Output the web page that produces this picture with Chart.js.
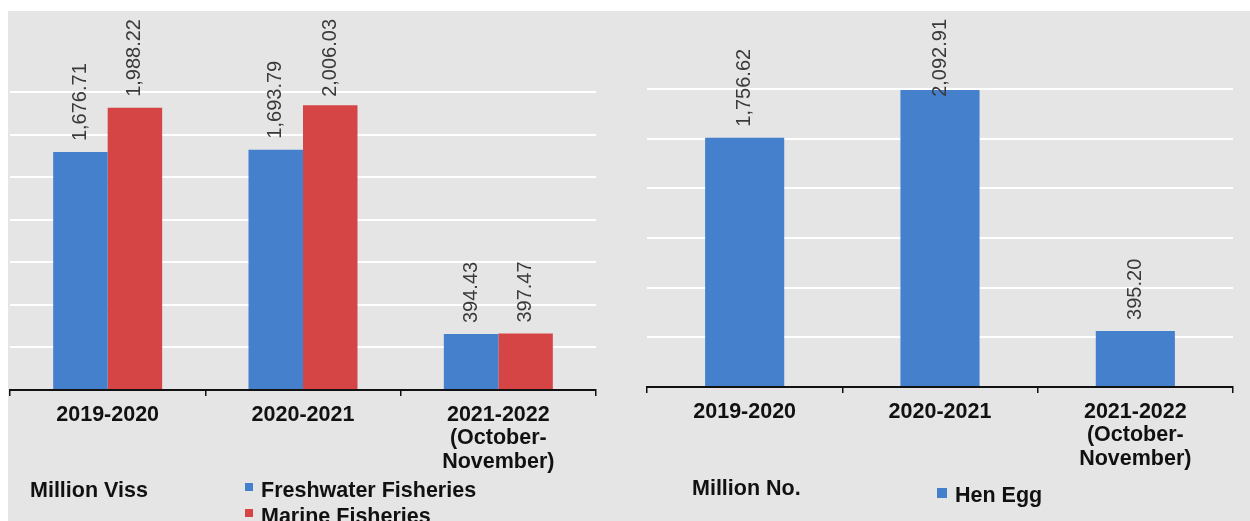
<!DOCTYPE html>
<html>
<head>
<meta charset="utf-8">
<script src="https://cdn.jsdelivr.net/npm/chart.js@4/dist/chart.umd.min.js"></script>
<style>
  html, body { margin: 0; padding: 0; background: #ffffff; }
  #page { position: relative; width: 1250px; height: 521px; overflow: hidden; }
  #panel { position: absolute; left: 8px; top: 11px; right: 0; bottom: 0; background: #e5e5e5; }
  #fishCanvas { position: absolute; left: 0; top: 0; }
  #eggCanvas { position: absolute; left: 622px; top: 0; }
</style>
</head>
<body>
<div id="page">
  <div id="panel"></div>
  <canvas id="fishCanvas" width="622" height="521"></canvas>
  <canvas id="eggCanvas" width="628" height="521"></canvas>
</div>
<script>
// =============================================================================
// DATA
// =============================================================================

const years = [
  '2019-2020',
  '2020-2021',
  ['2021-2022', '(October-', 'November)']
];

const freshwaterFisheries = [1676.71, 1693.79, 394.43];
const marineFisheries = [1988.22, 2006.03, 397.47];
const henEgg = [1756.62, 2092.91, 395.20];

const fishUnit = 'Million Viss';
const eggUnit = 'Million No.';

// =============================================================================
// CHART UTILITIES
// =============================================================================

const BLUE = '#4580cc';
const RED = '#d64546';
const FONT = "'Liberation Sans', Arial, Helvetica, sans-serif";

Chart.defaults.font.family = FONT;
Chart.defaults.color = '#111';

const formatValue = (v) =>
  v.toLocaleString('en-US', { minimumFractionDigits: 2, maximumFractionDigits: 2 });

/**
 * Vertical value labels above each bar, kept inside the panel top
 */
const barLabels = {
  id: 'barLabels',
  afterDatasetsDraw(chart) {
    const ctx = chart.ctx;
    ctx.save();
    ctx.font = '20px ' + FONT;
    ctx.fillStyle = '#3a3a3a';
    ctx.textAlign = 'left';
    ctx.textBaseline = 'middle';
    chart.data.datasets.forEach((ds, i) => {
      chart.getDatasetMeta(i).data.forEach((bar, j) => {
        const text = formatValue(ds.data[j]);
        const w = ctx.measureText(text).width;
        let start = bar.y - 11;
        if (start - w < 19) start = 19 + w; // clamp like the original
        ctx.save();
        ctx.translate(bar.x, start);
        ctx.rotate(-Math.PI / 2);
        ctx.fillText(text, 0, 0);
        ctx.restore();
      });
    });
    ctx.restore();
  }
};

/**
 * Unit caption and a small square-marker legend under the axis
 */
const unitLegend = {
  id: 'unitLegend',
  afterDraw(chart, args, opts) {
    const ctx = chart.ctx;
    ctx.save();
    ctx.font = 'bold 21.5px ' + FONT;
    ctx.fillStyle = '#111';
    ctx.textAlign = 'left';
    ctx.textBaseline = 'alphabetic';
    ctx.fillText(opts.unit, opts.unitX, opts.unitY);
    chart.data.datasets.forEach((ds, i) => {
      const y = opts.legendY + i * 26;
      ctx.fillStyle = ds.backgroundColor;
      ctx.fillRect(opts.legendX, y - 14, opts.box, opts.box);
      ctx.fillStyle = '#111';
      ctx.fillText(ds.label, opts.legendX + opts.box + 8, y);
    });
    ctx.restore();
  }
};

const makeOptions = (stepSize, axisHeight, padding, catPct, legendOpts) => ({
  responsive: false,
  animation: false,
  layout: { padding: padding },
  plugins: {
    legend: { display: false },
    tooltip: { enabled: false },
    unitLegend: legendOpts
  },
  scales: {
    x: {
      afterFit: (scale) => { scale.height = axisHeight; },
      grid: {
        display: true,
        drawOnChartArea: false,
        drawTicks: true,
        tickLength: 6,
        color: '#111',
        lineWidth: 1.5
      },
      border: { display: true, color: '#111', width: 2 },
      ticks: {
        padding: 7,
        color: '#111',
        maxRotation: 0,
        font: { size: 21.5, weight: 'bold', lineHeight: 1.1 }
      }
    },
    y: {
      min: 0,
      max: 2100,
      afterFit: (scale) => { scale.width = 0; },
      ticks: { display: false, stepSize: stepSize },
      grid: { color: '#ffffff', lineWidth: 2, drawTicks: false },
      border: { display: false }
    }
  },
  datasets: {
    bar: { categoryPercentage: catPct, barPercentage: 1 }
  }
});

// =============================================================================
// CHARTS
// =============================================================================

new Chart(document.getElementById('fishCanvas'), {
  type: 'bar',
  data: {
    labels: years,
    datasets: [
      { label: 'Freshwater Fisheries', data: freshwaterFisheries, backgroundColor: BLUE, borderWidth: 0 },
      { label: 'Marine Fisheries', data: marineFisheries, backgroundColor: RED, borderWidth: 0 }
    ]
  },
  options: makeOptions(300, 131, { left: 10, right: 26, top: 92, bottom: 0 }, 0.558,
    { unit: fishUnit, unitX: 30, unitY: 497, legendX: 245, legendY: 497, box: 8 }),
  plugins: [barLabels, unitLegend]
});

new Chart(document.getElementById('eggCanvas'), {
  type: 'bar',
  data: {
    labels: years,
    datasets: [
      { label: 'Hen Egg', data: henEgg, backgroundColor: BLUE, borderWidth: 0 }
    ]
  },
  options: makeOptions(350, 134, { left: 25, right: 17, top: 89, bottom: 0 }, 0.405,
    { unit: eggUnit, unitX: 70, unitY: 495, legendX: 315, legendY: 502, box: 10 }),
  plugins: [barLabels, unitLegend]
});
</script>
</body>
</html>
